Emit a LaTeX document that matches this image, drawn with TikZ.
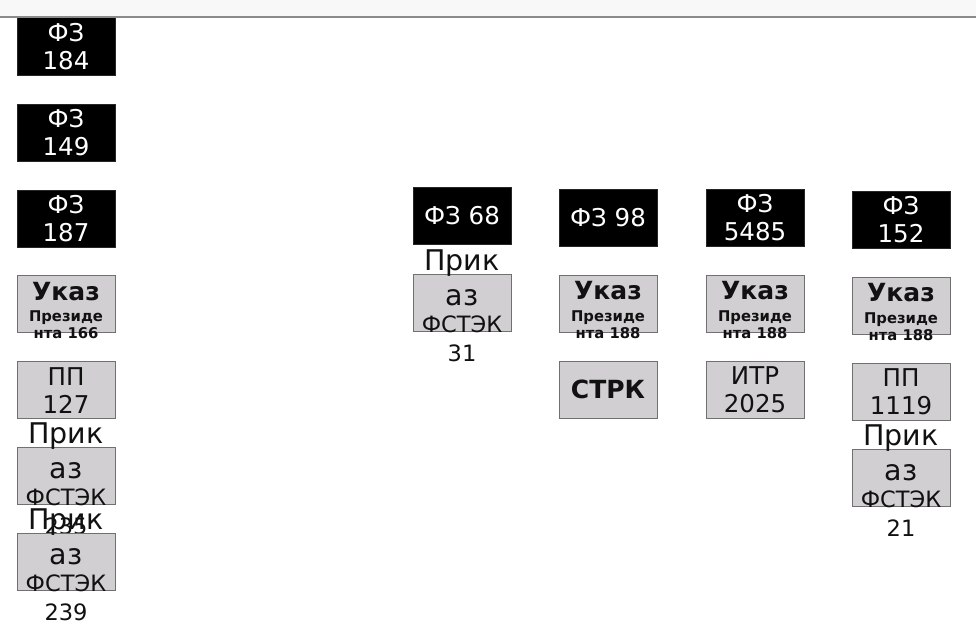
\documentclass[tikz,border=0pt]{standalone}
\usepackage{fontspec}
\setmainfont{DejaVu Sans}
\usetikzlibrary{backgrounds}
\definecolor{boxgray}{HTML}{D1CFD1}
\definecolor{boxedge}{HTML}{707070}
\definecolor{linkgray}{HTML}{7C7C7C}
\definecolor{barfill}{HTML}{F8F8F8}
\definecolor{barline}{HTML}{8A8A8A}
\definecolor{ink}{HTML}{111111}
\newcommand\fzbox[5]{% name, x, y, line1, line2
  \node[fzb] (#1) at (#2,#3) {};
  \node[wtxt] (#1a) at ([yshift=-23.5pt]#1.north) {#4};
  \node[wtxt] (#1b) at ([yshift=-51.5pt]#1.north) {#5};}
\newcommand\fzone[4]{% name, x, y, text
  \node[fzb] (#1) at (#2,#3) {};
  \node[wtxt] (#1a) at ([yshift=-37pt]#1.north) {#4};}
\newcommand\grtwo[5]{% name, x, y, line1, line2
  \node[grb] (#1) at (#2,#3) {};
  \node[ktxt] (#1a) at ([yshift=-23.5pt]#1.north) {#4};
  \node[ktxt] (#1b) at ([yshift=-51.5pt]#1.north) {#5};}
\newcommand\ukazbox[4]{% name, x, y, number
  \node[grb] (#1) at (#2,#3) {};
  \node[btxt] (#1a) at ([yshift=-24.5pt]#1.north) {Указ};
  \node[stxt] (#1b) at ([yshift=-46pt]#1.north) {Президе};
  \node[stxt] (#1c) at ([yshift=-63pt]#1.north) {нта #4};}
\newcommand\prikbox[4]{% name, x, y, number
  \node[grb] (#1) at (#2,#3) {};
  \node[bigtxt] (#1a) at ([yshift=4pt]#1.north) {Прик};
  \node[bigtxt] (#1b) at ([yshift=-31.5pt]#1.north) {аз};
  \node[ftxt] (#1c) at ([yshift=-58pt]#1.north) {ФСТЭК};
  \node[ftxt] (#1d) at ([yshift=-87pt]#1.north) {#4};}
\begin{document}
\begin{tikzpicture}[x=1pt,y=-1pt,
  fzb/.style={draw=black!85, fill=black, minimum width=98pt, minimum height=57pt,
    inner sep=0pt, outer sep=0pt, anchor=north west, line width=1pt},
  grb/.style={draw=boxedge, fill=boxgray, minimum width=98pt, minimum height=57pt,
    inner sep=0pt, outer sep=0pt, anchor=north west, line width=1pt},
  link/.style={draw=linkgray, line width=0.9pt},
  wtxt/.style={text=white, font=\fontsize{24.5}{24.5}\selectfont, anchor=base, inner sep=0pt},
  ktxt/.style={text=ink, font=\fontsize{24.5}{24.5}\selectfont, anchor=base, inner sep=0pt},
  ftxt/.style={text=ink, font=\fontsize{22.5}{22.5}\selectfont, anchor=base, inner sep=0pt},
  bigtxt/.style={text=ink, font=\fontsize{28.5}{28.5}\selectfont, anchor=base, inner sep=0pt},
  btxt/.style={text=ink, font=\bfseries\fontsize{25}{25}\selectfont, anchor=base, inner sep=0pt},
  stxt/.style={text=ink, font=\bfseries\fontsize{14.8}{14.8}\selectfont, anchor=base, inner sep=0pt},
]
\useasboundingbox (0,0) rectangle (976,634);
\fill[white] (0,0) rectangle (976,634);
% column 1
\fzbox{a1}{17}{18}{ФЗ}{184}
\fzbox{a2}{17}{104}{ФЗ}{149}
\fzbox{a3}{17}{190}{ФЗ}{187}
\ukazbox{a4}{17}{275.5}{166}
\grtwo{a5}{17}{361.5}{ПП}{127}
\prikbox{a6}{17}{447}{235}
\prikbox{a7}{17}{533}{239}
% column 2
\fzone{b1}{413}{187.5}{ФЗ 68}
\prikbox{b2}{413}{274}{31}
% column 3
\fzone{c1}{559}{189}{ФЗ 98}
\ukazbox{c2}{559}{275}{188}
\node[grb] (c3) at (559,361) {};
\node[btxt] (c3a) at ([yshift=-37.5pt]c3.north) {СТРК};
% column 4
\fzbox{d1}{706}{189}{ФЗ}{5485}
\ukazbox{d2}{706}{275}{188}
\grtwo{d3}{706}{361}{ИТР}{2025}
% column 5
\fzbox{e1}{852}{191}{ФЗ}{152}
\ukazbox{e2}{852}{277}{188}
\grtwo{e3}{852}{363}{ПП}{1119}
\prikbox{e4}{852}{449}{21}
% connectors
\begin{scope}[on background layer]
\draw[link] (a3.south) -- (a4.north);
\draw[link] (a4.south) -- (a5.north);
\draw[link] (a5.south) -- (a6.north);
\draw[link] (a6.south) -- (a7.north);
\draw[link] (b1.south) -- (b2.north);
\draw[link] (c1.south) -- (c2.north);
\draw[link] (c2.south) -- (c3.north);
\draw[link] (d1.south) -- (d2.north);
\draw[link] (d2.south) -- (d3.north);
\draw[link] (e1.south) -- (e2.north);
\draw[link] (e2.south) -- (e3.north);
\draw[link] (e3.south) -- (e4.north);
\end{scope}
% top bar
\fill[barfill] (0,0) rectangle (976,16.5);
\draw[barline, line width=1.8pt] (0,17.2) -- (976,17.2);
\end{tikzpicture}
\end{document}
